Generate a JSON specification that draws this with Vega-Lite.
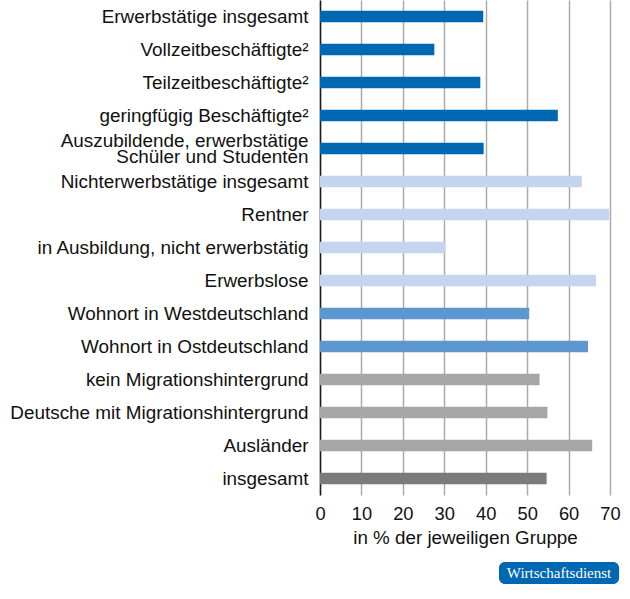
{
  "$schema": "https://vega.github.io/schema/vega-lite/v6.json",
  "background": "white",
  "padding": {"left": 0, "top": 0, "right": 5, "bottom": 5},
  "spacing": 14,
  "config": {"view": {"stroke": null}, "font": "Liberation Sans"},
  "vconcat": [
    {
      "width": 290,
      "height": 495,
      "data": {
        "values": [
          {"gruppe": "Erwerbstätige insgesamt", "wert": 39.4, "kategorie": "Erwerbstätige"},
          {"gruppe": "Vollzeitbeschäftigte²", "wert": 27.6, "kategorie": "Erwerbstätige"},
          {"gruppe": "Teilzeitbeschäftigte²", "wert": 38.7, "kategorie": "Erwerbstätige"},
          {"gruppe": "geringfügig Beschäftigte²", "wert": 57.4, "kategorie": "Erwerbstätige"},
          {"gruppe": "Auszubildende, erwerbstätige\nSchüler und Studenten", "wert": 39.5, "kategorie": "Erwerbstätige"},
          {"gruppe": "Nichterwerbstätige insgesamt", "wert": 63.2, "kategorie": "Nichterwerbstätige"},
          {"gruppe": "Rentner", "wert": 69.8, "kategorie": "Nichterwerbstätige"},
          {"gruppe": "in Ausbildung, nicht erwerbstätig", "wert": 30.3, "kategorie": "Nichterwerbstätige"},
          {"gruppe": "Erwerbslose", "wert": 66.6, "kategorie": "Nichterwerbstätige"},
          {"gruppe": "Wohnort in Westdeutschland", "wert": 50.5, "kategorie": "Wohnort"},
          {"gruppe": "Wohnort in Ostdeutschland", "wert": 64.7, "kategorie": "Wohnort"},
          {"gruppe": "kein Migrationshintergrund", "wert": 53.0, "kategorie": "Migration"},
          {"gruppe": "Deutsche mit Migrationshintergrund", "wert": 54.9, "kategorie": "Migration"},
          {"gruppe": "Ausländer", "wert": 65.7, "kategorie": "Migration"},
          {"gruppe": "insgesamt", "wert": 54.7, "kategorie": "Gesamt"}
        ]
      },
      "mark": {"type": "bar"},
      "encoding": {
        "y": {
          "field": "gruppe",
          "type": "nominal",
          "sort": null,
          "scale": {"paddingInner": 0.65, "paddingOuter": 0.325},
          "axis": {
            "title": null,
            "ticks": false,
            "grid": false,
            "labelPadding": 12,
            "labelFontSize": 18.9,
            "labelColor": "#111111",
            "labelLimit": 400,
            "labelExpr": "split(datum.label, '\\n')",
            "labelLineHeight": 16.5,
            "labelOffset": {"condition": {"test": "indexof(datum.value, 'Auszubildende') == 0", "value": -8}, "value": 0},
            "domainColor": "#1a1a1a",
            "domainWidth": 1.5,
            "minExtent": 320,
            "maxExtent": 320
          }
        },
        "x": {
          "field": "wert",
          "type": "quantitative",
          "scale": {"domain": [0, 70], "nice": false},
          "axis": {
            "values": [0, 10, 20, 30, 40, 50, 60, 70],
            "title": "in % der jeweiligen Gruppe",
            "titleFontSize": 18.8,
            "titleFontWeight": "normal",
            "titleColor": "#111111",
            "titlePadding": 6,
            "labelFontSize": 18.3,
            "labelColor": "#111111",
            "labelPadding": 10,
            "labelFlush": false,
            "ticks": false,
            "domain": false,
            "grid": true,
            "gridColor": "#aaaaaa",
            "gridWidth": 1.5
          }
        },
        "color": {
          "field": "kategorie",
          "type": "nominal",
          "scale": {
            "domain": ["Erwerbstätige", "Nichterwerbstätige", "Wohnort", "Migration", "Gesamt"],
            "range": ["#0067b3", "#c6d5ee", "#5e96d0", "#a6a6a6", "#7b7b7b"]
          },
          "legend": null
        }
      }
    },
    {
      "width": 290,
      "height": 22,
      "data": {"values": [{"label": "Wirtschaftsdienst"}]},
      "layer": [
        {
          "mark": {"type": "rect", "color": "#0067b3", "cornerRadius": 6},
          "encoding": {
            "x": {"datum": 43.2, "type": "quantitative", "scale": {"domain": [0, 70], "nice": false}, "axis": null},
            "x2": {"datum": 72.2}
          }
        },
        {
          "mark": {"type": "text", "color": "white", "font": "Liberation Serif", "fontSize": 15, "fontWeight": "normal"},
          "encoding": {
            "x": {"datum": 57.7, "type": "quantitative"},
            "text": {"field": "label"}
          }
        }
      ]
    }
  ]
}
